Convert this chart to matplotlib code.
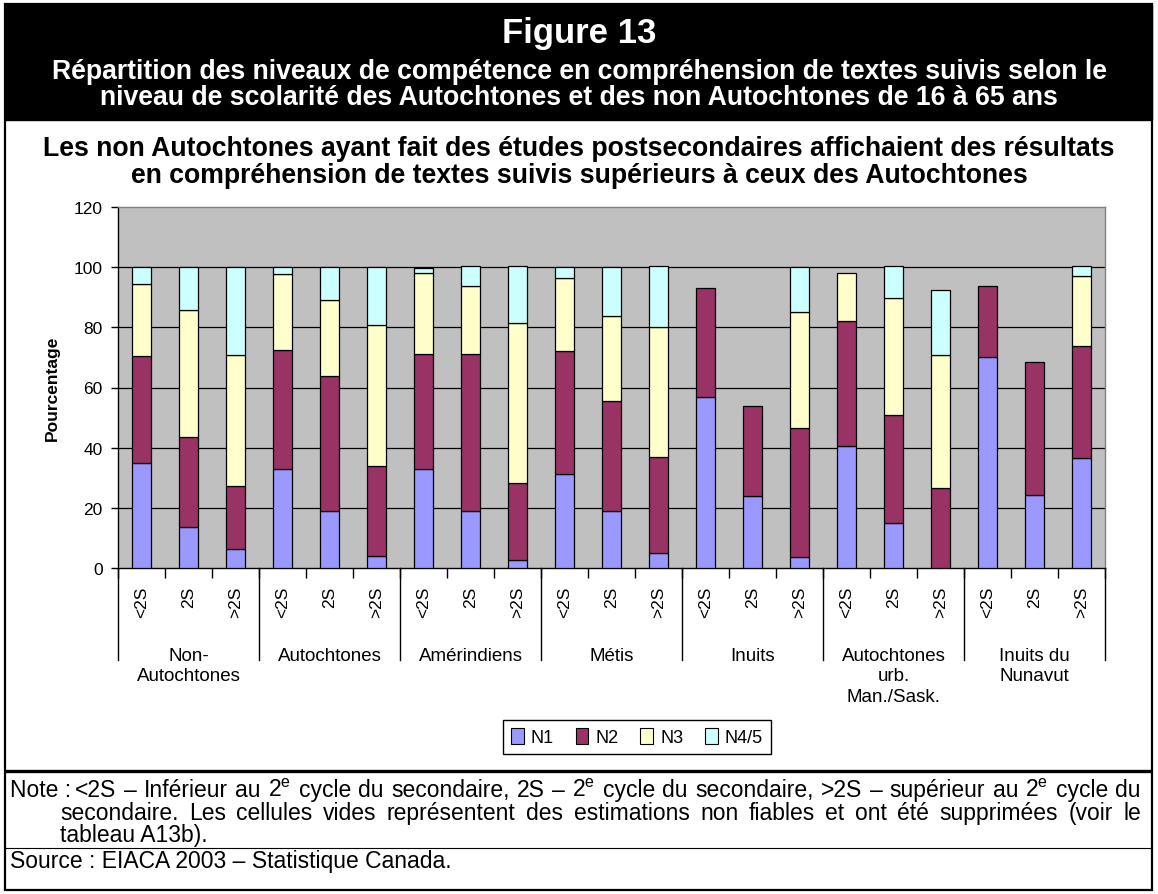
import numpy as np
import matplotlib
matplotlib.use("Agg")
import matplotlib.pyplot as plt
from matplotlib.patches import Rectangle, Patch
from matplotlib.lines import Line2D

plt.rcParams["font.family"] = ["Liberation Sans", "DejaVu Sans"]
plt.rcParams["mathtext.fontset"] = "custom"
plt.rcParams["mathtext.rm"] = "Liberation Sans"

# data (percent, stacked)
groups = ["Non-\nAutochtones", "Autochtones", "Amérindiens", "Métis", "Inuits",
          "Autochtones\nurb.\nMan./Sask.", "Inuits du\nNunavut"]
levels_school = ["<2S", "2S", ">2S"]
series_names = ["N1", "N2", "N3", "N4/5"]
nan = np.nan
n1 = [35.0, 13.6, 6.3, 32.9, 18.9, 3.9, 32.9, 18.9, 2.8, 31.1, 18.9, 4.9,
      56.8, 23.9, 3.6, 40.6, 15.0, nan, 70.1, 24.2, 36.4]
n2 = [35.6, 30.1, 20.8, 39.5, 45.0, 29.9, 38.3, 52.3, 25.5, 40.9, 36.5, 32.1,
      36.4, 30.1, 42.8, 41.4, 36.0, 26.7, 23.6, 44.2, 37.5]
n3 = [23.8, 42.0, 43.7, 25.3, 25.2, 46.9, 27.0, 22.5, 53.3, 24.3, 28.4, 43.2,
      nan, nan, 38.7, 16.2, 38.7, 44.0, nan, nan, 23.3]
n45 = [5.6, 14.3, 29.2, 2.3, 10.9, 19.3, 1.4, 6.6, 18.7, 3.7, 16.2, 20.1,
       nan, nan, 15.0, nan, 10.7, 21.6, nan, nan, 3.1]
yticks = [0, 20, 40, 60, 80, 100, 120]

colors = ["#9999FF", "#993366", "#FFFFCC", "#CCFFFF"]

W, H = 1158, 895
fx = lambda px: px / W
fy = lambda py: 1 - py / H

fig = plt.figure(figsize=(W / 100, H / 100), dpi=100)
fig.set_facecolor("white")

# frame + black header
fig.add_artist(Rectangle((fx(5), fy(891)), fx(1152) - fx(5), fy(5) - fy(891),
                         transform=fig.transFigure, fill=False, edgecolor="black", lw=1.6))
fig.add_artist(Rectangle((fx(5), fy(121)), fx(1152) - fx(5), fy(6) - fy(121),
                         transform=fig.transFigure, facecolor="black", edgecolor="black"))

title_kw = dict(fontsize=19.2, fontweight="bold", ha="center", va="center")
fig.text(0.5, fy(34), "Figure 13", color="white", fontsize=25, fontweight="bold",
         ha="center", va="center")
fig.text(0.5, fy(72), "Répartition des niveaux de compétence en compréhension de textes suivis selon le",
         color="white", **title_kw)
fig.text(0.5, fy(98), "niveau de scolarité des Autochtones et des non Autochtones de 16 à 65 ans",
         color="white", **title_kw)
fig.text(0.5, fy(149), "Les non Autochtones ayant fait des études postsecondaires affichaient des résultats",
         color="black", **title_kw)
fig.text(0.5, fy(176), "en compréhension de textes suivis supérieurs à ceux des Autochtones",
         color="black", **title_kw)

# chart
ax = fig.add_axes([fx(118), fy(569), fx(1105) - fx(118), fy(208) - fy(569)])
ax.set_facecolor("#C0C0C0")
x = np.arange(len(n1))
bottom = np.zeros(len(x))
for vals, col, name in zip([n1, n2, n3, n45], colors, series_names):
    v = np.array(vals, dtype=float)
    ok = ~np.isnan(v)
    ax.bar(x[ok], v[ok], width=0.42, bottom=bottom[ok], color=col,
           edgecolor="black", linewidth=0.9, label=name, zorder=3)
    bottom = bottom + np.nan_to_num(v)

for yv in yticks[1:-1]:
    ax.axhline(yv, color="black", lw=0.9, zorder=1)

ax.set_xlim(-0.5, len(x) - 0.5)
ax.set_ylim(yticks[0], yticks[-1])
ax.set_yticks(yticks)
ax.tick_params(axis="y", direction="out", length=5, width=1, labelsize=12.5, pad=6)

ax.set_xticks(x)
ax.set_xticklabels(levels_school * len(groups), rotation=90, fontsize=12.5)
ax.tick_params(axis="x", which="major", length=0, pad=13)
ax.set_xticks(np.arange(-0.5, len(x), 1), minor=True)
ax.tick_params(axis="x", which="minor", direction="out", length=7, width=1, color="black")

for s in ["left", "bottom"]:
    ax.spines[s].set_color("black")
    ax.spines[s].set_linewidth(1)
for s in ["top", "right"]:
    ax.spines[s].set_color("#808080")
    ax.spines[s].set_linewidth(1)

# group separators and names
tr = ax.get_xaxis_transform()
nlev = len(levels_school)
for i in range(len(groups) + 1):
    b = i * nlev - 0.5
    ax.plot([b, b], [0, -92 / 361], transform=tr, color="black", lw=1, clip_on=False)
for i, g in enumerate(groups):
    ax.text(i * nlev + 1, -79 / 361, g, transform=tr, ha="center", va="top",
            fontsize=13.5, linespacing=1.25)

fig.text(fx(52), fy(388), "Pourcentage", rotation=90, fontsize=12.5, fontweight="bold",
         ha="center", va="center")

handles = [Patch(facecolor=c, edgecolor="black", lw=0.8) for c in colors]
leg = fig.legend(handles, series_names, loc="center", bbox_to_anchor=(fx(637), fy(738)),
                 ncol=4, frameon=True, fancybox=False, edgecolor="black", framealpha=1,
                 fontsize=13, handlelength=0.7, handleheight=1.0, handletextpad=0.4,
                 columnspacing=1.2, borderpad=0.45)
leg.get_frame().set_linewidth(1)

# separators and notes
fig.add_artist(Line2D([fx(5), fx(1152)], [fy(772), fy(772)], transform=fig.transFigure,
                      color="black", lw=2.4, solid_capstyle="butt"))
fig.add_artist(Line2D([fx(5), fx(1152)], [fy(849), fy(849)], transform=fig.transFigure,
                      color="black", lw=0.8, solid_capstyle="butt"))

note_kw = dict(fontsize=16.5, va="baseline", ha="left")
renderer = fig.canvas.get_renderer()


def justify(line, x0, x1, ybase):
    # spread words over [x0, x1] like the justified paragraph of the source
    words = line.split(" ")
    objs = [fig.text(0, fy(ybase), w, **note_kw) for w in words]
    widths = [o.get_window_extent(renderer).width for o in objs]
    gap = (x1 - x0 - sum(widths)) / (len(words) - 1)
    pos = x0
    for o, w in zip(objs, widths):
        o.set_x(fx(pos))
        pos += w + gap


sup = r"2$^{\mathrm{e}}$"
fig.text(fx(10), fy(797), "Note :", **note_kw)
justify("<2S – Inférieur au " + sup + " cycle du secondaire, 2S – " + sup +
        " cycle du secondaire, >2S – supérieur au " + sup + " cycle du", 75, 1141, 797)
justify("secondaire. Les cellules vides représentent des estimations non fiables "
        "et ont été supprimées (voir le", 60, 1141, 820)
fig.text(fx(60), fy(842), "tableau A13b).", **note_kw)
fig.text(fx(10), fy(868), "Source : EIACA 2003 – Statistique Canada.", **note_kw)

fig.savefig("out.png", dpi=100)
